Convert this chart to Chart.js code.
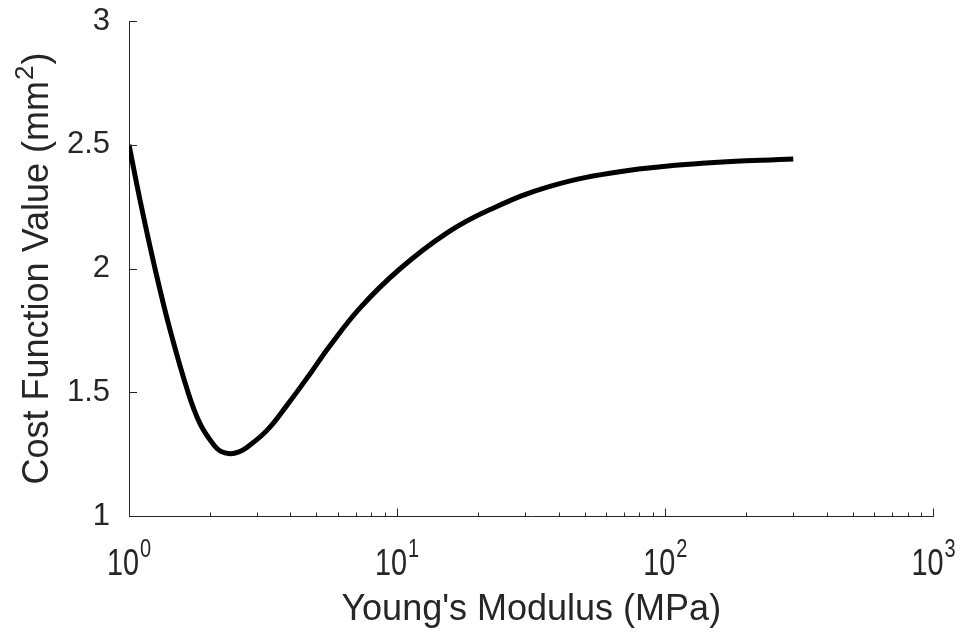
<!DOCTYPE html>
<html>
<head>
<meta charset="utf-8">
<script src="https://cdn.jsdelivr.net/npm/chart.js@4"></script>
<style>
  html, body { margin: 0; padding: 0; background: #fff; }
  #wrap { width: 964px; height: 634px; }
</style>
</head>
<body>
<div id="wrap"><canvas id="chart"></canvas></div>
<script>
// values
const modulus = [1, 1.1, 1.25, 1.42, 1.66, 1.84, 2.06, 2.2, 2.38, 2.57, 2.75, 3.27, 3.88, 4.73, 5.57, 7.26, 10.2, 15.3, 22.2, 37.1, 69.5, 142, 300];
const cost = [2.5, 2.275, 2.0, 1.755, 1.5, 1.373, 1.29, 1.261, 1.252, 1.259, 1.277, 1.346, 1.447, 1.574, 1.683, 1.84, 1.997, 2.143, 2.238, 2.332, 2.393, 2.426, 2.442];
const xTickExponents = [0, 1, 2, 3];
const yTicks = [1, 1.5, 2, 2.5, 3];
const xTitle = "Young's Modulus (MPa)";
const yTitle = 'Cost Function Value (mm';
const yTitleSup = '2';

const AXIS = '#262626';
const FONT = "'Liberation Sans', Arial, Helvetica, sans-serif";

const main = () => {
  const canvas = document.getElementById('chart');

  // MATLAB style: inward ticks, 10^n tick labels and a y title with superscript
  const axisDecor = {
    id: 'axisDecor',
    afterDraw(chart) {
      const { ctx, chartArea } = chart;
      const x = chart.scales.x;
      const y = chart.scales.y;
      ctx.save();
      ctx.strokeStyle = AXIS;
      ctx.lineWidth = 1;
      ctx.beginPath();
      yTicks.forEach(v => {
        const py = Math.round(y.getPixelForValue(v)) + 0.5;
        ctx.moveTo(chartArea.left, py);
        ctx.lineTo(chartArea.left + 8, py);
      });
      const base = Math.round(chartArea.bottom) + 0.5;
      for (let e = 0; e < 3; e++) {
        for (let m = 1; m <= 9; m++) {
          const px = Math.round(x.getPixelForValue(m * 10 ** e)) + 0.5;
          ctx.moveTo(px, base);
          ctx.lineTo(px, base - (m === 1 ? 8 : 4));
        }
      }
      const pEnd = Math.round(x.getPixelForValue(1000)) - 0.5;
      ctx.moveTo(pEnd, base);
      ctx.lineTo(pEnd, base - 8);
      ctx.stroke();

      // x tick labels
      ctx.fillStyle = AXIS;
      ctx.textBaseline = 'alphabetic';
      ctx.textAlign = 'left';
      const sx = 0.8;
      xTickExponents.forEach(e => {
        const px = x.getPixelForValue(10 ** e);
        ctx.font = `36px ${FONT}`;
        const w10 = ctx.measureText('10').width * sx;
        ctx.font = `25px ${FONT}`;
        const wSup = ctx.measureText(String(e)).width * sx;
        const start = px - (w10 + wSup + 1) / 2;
        ctx.save();
        ctx.translate(start, 575);
        ctx.scale(sx, 1);
        ctx.font = `36px ${FONT}`;
        ctx.fillText('10', 0, 0);
        ctx.font = `25px ${FONT}`;
        ctx.fillText(String(e), (w10 + 1) / sx, -18);
        ctx.restore();
      });

      // y title
      ctx.save();
      ctx.translate(48, 268.5);
      ctx.rotate(-Math.PI / 2);
      ctx.font = `36px ${FONT}`;
      const wMain = ctx.measureText(yTitle).width;
      const wClose = ctx.measureText(')').width;
      ctx.font = `26px ${FONT}`;
      const wS = ctx.measureText(yTitleSup).width;
      let tx = -(wMain + wS + wClose + 2) / 2;
      ctx.font = `36px ${FONT}`;
      ctx.fillText(yTitle, tx, 0);
      tx += wMain + 1;
      ctx.font = `26px ${FONT}`;
      ctx.fillText(yTitleSup, tx, -15);
      tx += wS + 1;
      ctx.font = `36px ${FONT}`;
      ctx.fillText(')', tx, 0);
      ctx.restore();

      ctx.restore();
    }
  };

  const data = {
    datasets: [{
      label: 'Cost',
      data: modulus.map((m, i) => ({ x: m, y: cost[i] })),
      borderColor: '#000',
      borderWidth: 5,
      pointRadius: 0,
      fill: false,
      tension: 0.4
    }]
  };

  const options = {
    responsive: false,
    animation: false,
    devicePixelRatio: 1,
    layout: { padding: { top: 21, right: 30.5, left: 0, bottom: 0 } },
    plugins: {
      legend: { display: false },
      tooltip: { enabled: false }
    },
    scales: {
      x: {
        type: 'logarithmic',
        min: 1,
        max: 1000,
        afterFit: (scale) => {
          scale.height = 118;
          scale.paddingLeft = 0;
          scale.paddingRight = 0;
        },
        grid: { display: true, drawOnChartArea: false, drawTicks: false },
        border: { display: true, color: AXIS, width: 1 },
        ticks: { display: false },
        title: {
          display: true,
          text: xTitle,
          color: AXIS,
          font: { family: FONT, size: 36 },
          padding: { top: 0, bottom: 2 }
        }
      },
      y: {
        min: 1,
        max: 3,
        afterFit: (scale) => {
          scale.width = 129;
          scale.paddingTop = 0;
          scale.paddingBottom = 0;
        },
        grid: { display: true, drawOnChartArea: false, drawTicks: false },
        border: { display: true, color: AXIS, width: 1 },
        ticks: {
          stepSize: 0.5,
          padding: 19,
          color: AXIS,
          font: { family: FONT, size: 31 },
          callback: (v) => String(v)
        }
      }
    }
  };

  canvas.width = 964;
  canvas.height = 634;
  new Chart(canvas, { type: 'line', data, options, plugins: [axisDecor] });
};

main();
</script>
</body>
</html>
